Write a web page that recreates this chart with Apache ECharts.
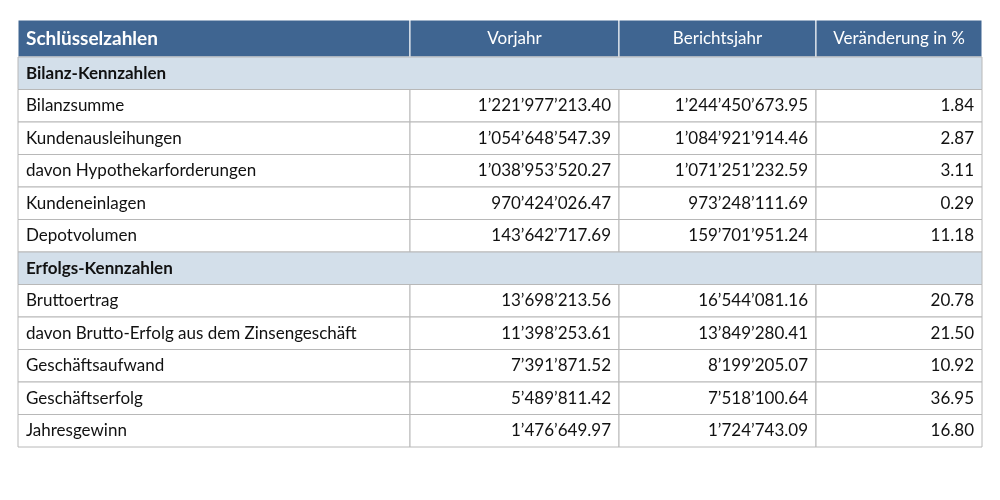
<!DOCTYPE html>
<html><head><meta charset="utf-8">
<script src="https://cdn.jsdelivr.net/npm/echarts@6/dist/echarts.min.js"></script>
<style>html,body{margin:0;padding:0;background:#fff}#c{width:1000px;height:500px}</style>
</head><body><div id="c"></div>
<script>
const headers = ['Schlüsselzahlen','Vorjahr','Berichtsjahr','Veränderung in %'];
const rowLabels = ['Bilanz-Kennzahlen','Bilanzsumme','Kundenausleihungen','davon Hypothekarforderungen','Kundeneinlagen','Depotvolumen','Erfolgs-Kennzahlen','Bruttoertrag','davon Brutto-Erfolg aus dem Zinsengeschäft','Geschäftsaufwand','Geschäftserfolg','Jahresgewinn'];
const sectionRows = [0, 6];
const prevYear = ['', '1’221’977’213.40','1’054’648’547.39','1’038’953’520.27','970’424’026.47','143’642’717.69','', '13’698’213.56','11’398’253.61','7’391’871.52','5’489’811.42','1’476’649.97'];
const curYear = ['', '1’244’450’673.95','1’084’921’914.46','1’071’251’232.59','973’248’111.69','159’701’951.24','', '16’544’081.16','13’849’280.41','8’199’205.07','7’518’100.64','1’724’743.09'];
const change = ['', '1.84','2.87','3.11','0.29','11.18','', '20.78','21.50','10.92','36.95','16.80'];

const colEdges = [0, 392, 601, 798, 964];
const headerH = 37, rowH = 32.5;
const rowEdge = r => r === 0 ? 0 : headerH + (r - 1) * rowH;

const data = [];
headers.forEach((h, c) => data.push([c, 0, h]));
rowLabels.forEach((lab, i) => {
  const r = i + 1;
  if (sectionRows.includes(i)) { data.push([0, r, lab]); return; }
  data.push([0, r, lab]); data.push([1, r, prevYear[i]]); data.push([2, r, curYear[i]]); data.push([3, r, change[i]]);
});

const chart = echarts.init(document.getElementById('c'));
chart.setOption({
  animation: false,
  grid: {left: 18, right: 18, top: 20, bottom: 53},
  xAxis: {type: 'value', min: 0, max: 964, show: false},
  yAxis: {type: 'value', min: 0, max: headerH + rowLabels.length * rowH, inverse: true, show: false},
  series: [{
    type: 'custom',
    data: data,
    renderItem: function (params, api) {
      const c = api.value(0), r = api.value(1);
      const d = data[params.dataIndex];
      const isHeader = r === 0;
      const isSection = !isHeader && sectionRows.includes(r - 1);
      const x2 = isSection ? colEdges[4] : colEdges[c + 1];
      const p1 = api.coord([colEdges[c], rowEdge(r)]);
      const p2 = api.coord([x2, rowEdge(r + 1)]);
      const w = p2[0] - p1[0], h = p2[1] - p1[1];
      const fill = isHeader ? '#3f6591' : (isSection ? '#d3dfea' : '#ffffff');
      const stroke = isHeader ? '#ffffff' : '#b8b8b8';
      let align = 'left', tx = p1[0] + 8;
      if (isHeader && c > 0) { align = 'center'; tx = p1[0] + w / 2; }
      else if (!isHeader && c > 0) { align = 'right'; tx = p2[0] - 8; }
      return {
        type: 'group',
        children: [
          {type: 'rect', shape: {x: p1[0], y: p1[1], width: w, height: h},
           style: {fill: fill, stroke: stroke, lineWidth: 1}},
          {type: 'text', style: {
            x: tx, y: p1[1] + h / 2, text: d[2], align: align, verticalAlign: 'middle',
            fill: isHeader ? '#ffffff' : '#111111',
            font: (isHeader && c === 0 || isSection ? 'bold ' : '') + (isHeader ? (c === 0 ? '19px' : '17px') : '17px') + ' Lato, "Noto Sans", sans-serif'
          }}
        ]
      };
    }
  }]
});
</script></body></html>
